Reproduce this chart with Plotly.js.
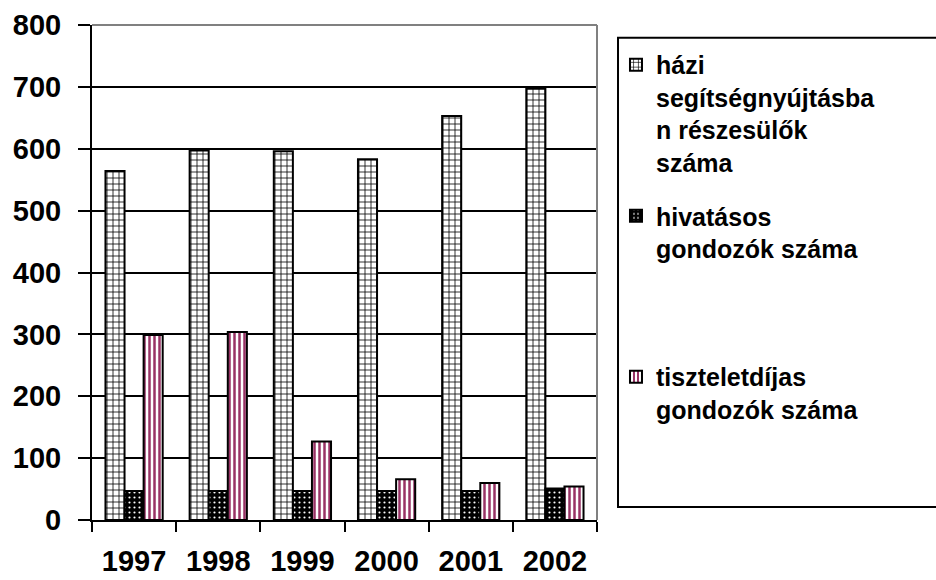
<!DOCTYPE html>
<html>
<head>
<meta charset="utf-8">
<script src="https://cdn.plot.ly/plotly-3.0.1.min.js"></script>
<style>
  body { margin: 0; background: #fff; }
  #chart { width: 936px; height: 580px; }
</style>
</head>
<body>
<div id="chart"></div>
<script>
// years on the category axis
const years = ['1997', '1998', '1999', '2000', '2001', '2002'];

// series
const haziSegitseg = [564, 597, 596, 583, 653, 697];   // házi segítségnyújtásban részesülők
const hivatasos = [47, 47, 47, 47, 47, 51];            // hivatásos gondozók
const tiszteletdijas = [299, 304, 127, 66, 60, 54];    // tiszteletdíjas gondozók

// legend labels, wrapped like the original
const seriesNames = [
    'házi<br>segítségnyújtásba<br>n részesülők<br>száma',
    'hivatásos<br>gondozók száma',
    'tiszteletdíjas<br>gondozók száma'
];

const font = { family: 'Liberation Sans, Arial, sans-serif', color: '#000', weight: 'bold' };
const outline = { color: '#000', width: 2 };

const data = [
    {
        type: 'bar', x: years, y: haziSegitseg, name: seriesNames[0], legend: 'legend',
        marker: {
            color: '#fff', line: outline,
            pattern: { shape: '+', fgcolor: '#000', bgcolor: '#fff', size: 6, solidity: 0.25 }
        }
    },
    {
        type: 'bar', x: years, y: hivatasos, name: seriesNames[1], legend: 'legend2',
        marker: {
            color: '#000', line: outline,
            pattern: { shape: '.', fgcolor: '#fff', bgcolor: '#000', size: 5, solidity: 0.15 }
        }
    },
    {
        type: 'bar', x: years, y: tiszteletdijas, name: seriesNames[2], legend: 'legend3',
        marker: {
            color: '#fff', line: outline,
            pattern: { shape: '|', fgcolor: '#993366', bgcolor: '#fff', size: 5, solidity: 0.5 }
        }
    }
];

// one legend per series so each entry sits where the original has it
const legendStyle = y => ({
    x: 1.0376, xanchor: 'left',
    y: y, yanchor: 'top',
    bgcolor: 'rgba(0,0,0,0)',
    borderwidth: 0,
    valign: 'top',
    font: Object.assign({}, font, { size: 25 })
});

const layout = {
    width: 936,
    height: 580,
    margin: { l: 92, r: 339, t: 25, b: 60, autoexpand: false },
    paper_bgcolor: '#fff',
    plot_bgcolor: '#fff',
    barmode: 'group',
    bargap: 0.32,
    bargroupgap: 0,
    showlegend: true,
    font: font,
    xaxis: {
        type: 'category',
        showline: true, linecolor: '#000', linewidth: 2,
        ticks: 'outside', tickson: 'boundaries', ticklen: 10, tickwidth: 2, tickcolor: '#000',
        ticklabelstandoff: 14,
        tickfont: Object.assign({}, font, { size: 29 }),
        showgrid: false, zeroline: false
    },
    yaxis: {
        range: [0, 800],
        tick0: 0, dtick: 100,
        showline: true, linecolor: '#000', linewidth: 2,
        ticks: 'outside', ticklen: 12, tickwidth: 2, tickcolor: '#000',
        ticklabelstandoff: 11,
        tickfont: Object.assign({}, font, { size: 29 }),
        showgrid: true, gridcolor: '#000', gridwidth: 2,
        zeroline: false
    },
    legend: legendStyle(0.9657),
    legend2: legendStyle(0.6606),
    legend3: legendStyle(0.3354),
    shapes: [
        // legend frame, running off the right edge as in the original
        { type: 'rect', xref: 'paper', yref: 'paper', x0: 1.0416, x1: 1.9, y0: 0.0263, y1: 0.974,
          line: { color: '#000', width: 2 }, fillcolor: 'rgba(0,0,0,0)', layer: 'below' },
        // grey top and right edges of the plot area
        { type: 'line', xref: 'paper', yref: 'paper', x0: 0, x1: 1, y0: 1, y1: 1,
          line: { color: '#808080', width: 2 }, layer: 'above' },
        { type: 'line', xref: 'paper', yref: 'paper', x0: 1, x1: 1, y0: 0, y1: 1,
          line: { color: '#808080', width: 2 }, layer: 'above' }
    ]
};

Plotly.newPlot('chart', data, layout, { staticPlot: true, displayModeBar: false });
</script>
</body>
</html>
